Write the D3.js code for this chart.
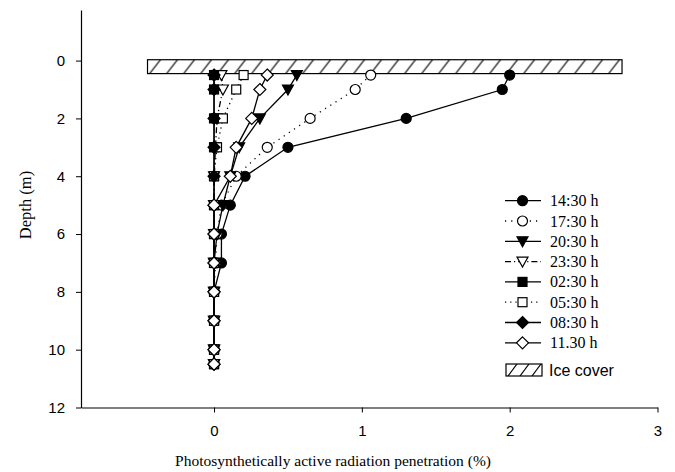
<!DOCTYPE html>
<html>
<head>
<meta charset="utf-8">
<script src="https://cdn.jsdelivr.net/npm/d3@7/dist/d3.min.js"></script>
<style>
  html, body { margin: 0; padding: 0; background: #fff; }
  svg { display: block; }
</style>
</head>
<body>
<svg id="chart" width="675" height="472"></svg>
<script>
// ---- data ----
const depths = [0.5, 1, 2, 3, 4, 5, 6, 7, 8, 9, 10, 10.5];
const seriesNames = ["14:30 h", "17:30 h", "20:30 h", "23:30 h", "02:30 h", "05:30 h", "08:30 h", "11.30 h"];
const s1430 = [2.00, 1.95, 1.30, 0.50, 0.21, 0.11, 0.05, 0.05, 0, 0, 0, 0];
const s1730 = [1.06, 0.955, 0.65, 0.36, 0.15, 0.05, 0.02, 0.01, 0, 0, 0, 0];
const s2030 = [0.56, 0.50, 0.31, 0.17, 0.11, 0.06, 0.02, 0, 0, 0, 0, 0];
const s2330 = [0.05, 0.06, 0.02, 0.01, 0, 0, 0, 0, 0, 0, 0, 0];
const s0230 = [0, 0, 0, 0, 0, 0, 0, 0, 0, 0, 0, 0];
const s0530 = [0.20, 0.15, 0.06, 0.02, 0, 0, 0, 0, 0, 0, 0, 0];
const s0830 = [0, 0, 0, 0, 0, 0, 0, 0, 0, 0, 0, 0];
const s1130 = [0.36, 0.31, 0.255, 0.15, 0.11, 0, 0, 0, 0, 0, 0, 0];
const xTicks = [0, 1, 2, 3];
const yTicks = [0, 2, 4, 6, 8, 10, 12];
const iceCover = { x0: -0.45, x1: 2.76, d0: -0.03, d1: 0.45 };
const iceLabel = "Ice cover";
const xTitle = "Photosynthetically active radiation penetration (%)";
const yTitle = "Depth (m)";

// ---- styles per series ----
const values = [s1430, s1730, s2030, s2330, s0230, s0530, s0830, s1130];
const shapes = ["circle", "circle", "triangle", "triangle", "square", "square", "diamond", "diamond"];
const filled = [true, false, true, false, true, false, true, false];
const dashes = [null, "1.2,5", null, "6,3,1.2,3", null, "1.2,4", null, null];

const svg = d3.select("#chart");
const x = d3.scaleLinear().domain([-0.9, 3]).range([81, 657.5]);
const y = d3.scaleLinear().domain([-1.75, 12]).range([10, 407.5]);

// hatch pattern
const defs = svg.append("defs");
const pat = defs.append("pattern").attr("id", "hatch")
  .attr("patternUnits", "userSpaceOnUse").attr("width", 17).attr("height", 14)
  .attr("x", x(iceCover.x0)).attr("y", y(iceCover.d0));
pat.append("rect").attr("width", 17).attr("height", 14).attr("fill", "#fff");
[-17, 0, 17].forEach(o => pat.append("line").attr("x1", o + 2).attr("y1", 14).attr("x2", o + 13).attr("y2", 0)
  .attr("stroke", "#000").attr("stroke-width", 1.2));

const pat2 = defs.append("pattern").attr("id", "hatch2")
  .attr("patternUnits", "userSpaceOnUse").attr("width", 12).attr("height", 12)
  .attr("x", 506).attr("y", 364);
pat2.append("rect").attr("width", 12).attr("height", 12).attr("fill", "#fff");
[-12, 0, 12].forEach(o => pat2.append("line").attr("x1", o + 2).attr("y1", 12).attr("x2", o + 11).attr("y2", 0)
  .attr("stroke", "#000").attr("stroke-width", 1.2));

// axes
const yAxis = d3.axisLeft(y).tickValues(yTicks).tickSize(5).tickSizeOuter(0).tickPadding(11).tickFormat(d3.format("d"));
const gy = svg.append("g").attr("transform", `translate(${x(-0.9)},0)`).call(yAxis);
const xAxis = d3.axisBottom(x).tickValues(xTicks).tickSize(5).tickSizeOuter(0).tickPadding(13).tickFormat(d3.format("d"));
const gx = svg.append("g").attr("transform", `translate(0,${y(12)})`).call(xAxis);
[gx, gy].forEach(g => {
  g.selectAll("path.domain").attr("stroke", "#000").attr("stroke-width", 1.2);
  g.selectAll(".tick line").attr("stroke", "#000").attr("stroke-width", 1);
  g.selectAll(".tick text").attr("fill", "#000")
    .style("font-family", "'Liberation Sans', Arial, sans-serif").style("font-size", "15px");
});

// titles
svg.append("text").attr("x", 333).attr("y", 466).attr("text-anchor", "middle")
  .style("font-family", "'Liberation Serif', 'Times New Roman', serif").style("font-size", "15.5px")
  .text(xTitle);
svg.append("text").attr("transform", "translate(31,205) rotate(-90)").attr("text-anchor", "middle")
  .style("font-family", "'Liberation Serif', 'Times New Roman', serif").style("font-size", "16.5px")
  .text(yTitle);

// ice cover
svg.append("rect")
  .attr("x", x(iceCover.x0)).attr("y", y(iceCover.d0))
  .attr("width", x(iceCover.x1) - x(iceCover.x0)).attr("height", y(iceCover.d1) - y(iceCover.d0))
  .attr("fill", "url(#hatch)").attr("stroke", "#000").attr("stroke-width", 1.2);

// marker drawing
function marker(g, shape, fill, cx, cy) {
  const fc = fill ? "#000" : "#fff";
  let el;
  if (shape === "circle") {
    el = g.append("circle").attr("cx", cx).attr("cy", cy).attr("r", 5);
  } else if (shape === "square") {
    el = g.append("rect").attr("x", cx - 4.5).attr("y", cy - 4.5).attr("width", 9).attr("height", 9);
  } else if (shape === "triangle") {
    el = g.append("path").attr("d", `M${cx - 5.5},${cy - 4.5}L${cx + 5.5},${cy - 4.5}L${cx},${cy + 5.5}Z`);
  } else {
    el = g.append("path").attr("d", `M${cx},${cy - 6}L${cx + 6},${cy}L${cx},${cy + 6}L${cx - 6},${cy}Z`);
  }
  el.attr("fill", fc).attr("stroke", "#000").attr("stroke-width", 1.2);
}

const line = d3.line().x(d => x(d[0])).y(d => y(d[1]));
values.forEach((vals, i) => {
  const pts = vals.map((v, j) => [v, depths[j]]);
  const g = svg.append("g");
  g.append("path").attr("d", line(pts)).attr("fill", "none").attr("stroke", "#000")
    .attr("stroke-width", 1.3).attr("stroke-dasharray", dashes[i]);
  pts.forEach(p => marker(g, shapes[i], filled[i], x(p[0]), y(p[1])));
});

// legend
const legY0 = 200.7, legStep = 20.3;
seriesNames.forEach((name, i) => {
  const ly = legY0 + i * legStep;
  const g = svg.append("g");
  g.append("line").attr("x1", 505).attr("x2", 541).attr("y1", ly).attr("y2", ly)
    .attr("stroke", "#000").attr("stroke-width", 1.3).attr("stroke-dasharray", dashes[i]);
  marker(g, shapes[i], filled[i], 522.5, ly);
  g.append("text").attr("x", 550).attr("y", ly + 5.5)
    .style("font-family", "'Liberation Serif', 'Times New Roman', serif").style("font-size", "16px")
    .text(name);
});
svg.append("rect").attr("x", 506).attr("y", 364).attr("width", 36).attr("height", 12)
  .attr("fill", "url(#hatch2)").attr("stroke", "#000").attr("stroke-width", 1.2);
svg.append("text").attr("x", 549).attr("y", 375.5)
  .style("font-family", "'Liberation Sans', Arial, sans-serif").style("font-size", "16px")
  .text(iceLabel);
</script>
</body>
</html>
